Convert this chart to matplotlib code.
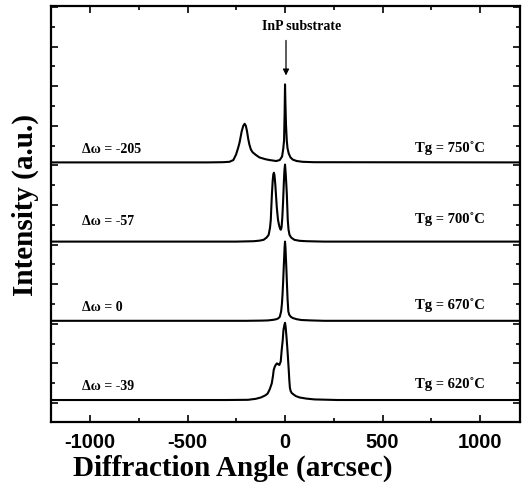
import numpy as np
import matplotlib
matplotlib.use('Agg')
import matplotlib.pyplot as plt
from matplotlib.ticker import MultipleLocator, FixedLocator

plt.rcParams['axes.unicode_minus'] = False

################## Datos ##################
# angulo (arcsec) y altura sobre la linea base (u.a.) de cada curva

x_750 = [-1200, -400, -320, -285, -265, -251, -240, -233, -222, -214, -207, -201,
         -195, -189, -183, -175, -166, -150, -131, -100, -80, -45, -27, -15, -9,
         -5, -2, 0, 2, 5, 9, 13, 19, 28, 40, 60, 90, 150, 1205]
h_750 = [0, 0, 0.01, 0.03, 0.12, 0.40, 0.75, 1.01, 1.58, 1.85, 1.95, 1.85,
         1.58, 1.2, 0.91, 0.65, 0.51, 0.38, 0.25, 0.16, 0.12, 0.07, 0.12, 0.3, 0.7,
         1.1, 2.5, 3.94, 3.0, 1.9, 1.1, 0.7, 0.45, 0.25, 0.14, 0.07, 0.03, 0.01, 0]

x_700 = [-1200, -250, -160, -130, -110, -95, -84, -77, -73, -70, -67, -63, -60,
         -57, -54, -50, -46, -42, -36, -30, -25, -22, -18, -14, -10, -6, -3, 0,
         3, 6, 9, 14, 18, 23, 32, 48, 75, 110, 200, 1205]
h_700 = [0, 0, 0.02, 0.05, 0.09, 0.2, 0.34, 0.7, 1.1, 1.8, 2.44, 3.1, 3.4,
         3.48, 3.35, 2.9, 2.3, 1.7, 1.1, 0.8, 0.65, 0.6, 0.7, 1.2, 2.0, 3.0, 3.6, 3.89,
         3.5, 3.0, 2.44, 1.1, 0.6, 0.34, 0.2, 0.09, 0.04, 0.02, 0, 0]

x_670 = [-1200, -200, -120, -87, -60, -45, -35, -27, -20, -16, -13, -10, -7, -4,
         -2, 0, 2, 4, 7, 10, 13, 17, 22, 30, 40, 60, 84, 130, 200, 1205]
h_670 = [0, 0, 0.01, 0.02, 0.05, 0.08, 0.12, 0.2, 0.47, 0.85, 1.3, 1.9, 2.6, 3.3,
         3.75, 4.0, 3.75, 3.3, 2.6, 1.82, 1.1, 0.47, 0.3, 0.2, 0.14, 0.08, 0.04, 0.02, 0, 0]

x_620 = [-1200, -300, -190, -150, -123, -100, -89, -78, -68, -62, -58, -52, -46,
         -41, -35, -29, -22, -17, -12, -8, -3, 0, 3, 7, 10, 14, 19, 22, 25, 29,
         34, 41, 55, 74, 110, 151, 270, 1205]
h_620 = [0, 0, 0.01, 0.06, 0.13, 0.24, 0.33, 0.55, 0.84, 1.2, 1.52, 1.7, 1.8,
         1.85, 1.8, 1.77, 1.95, 2.53, 3.0, 3.54, 3.8, 3.9, 3.7, 3.25, 2.86, 2.3, 1.52, 1.0, 0.62, 0.45,
         0.36, 0.3, 0.2, 0.13, 0.07, 0.03, 0.0, 0]

dw_labels = ['\u0394\u03c9 = -205', '\u0394\u03c9 = -57', '\u0394\u03c9 = 0', '\u0394\u03c9 = -39']
tg_labels = ['Tg = 750\u02daC', 'Tg = 700\u02daC', 'Tg = 670\u02daC', 'Tg = 620\u02daC']

################## Grafico ##################

serif = 'Liberation Serif'
sans = 'Liberation Sans'

fig = plt.figure(figsize=(5.26, 4.82), dpi=100)
ax = fig.add_axes([0.097, 0.1245, 0.8916, 0.8631])

curvas = [(x_750, h_750), (x_700, h_700), (x_670, h_670), (x_620, h_620)]
offsets = [12, 8, 4, 0]

for (x, h), off in zip(curvas, offsets):
    ax.plot(x, np.array(h) + off, color='black', lw=1.5)

# etiquetas de cada curva
dw_y = [12.63, 9.0, 4.68, 0.68]
tg_y = [12.73, 9.15, 4.8, 0.8]
for lab, y in zip(dw_labels, dw_y):
    ax.text(-1043, y, lab, fontsize=10, fontweight='bold', family=serif,
            ha='left', va='center')
for lab, y in zip(tg_labels, tg_y):
    ax.text(1026, y, lab, fontsize=10.5, fontweight='bold', family=serif,
            ha='right', va='center')

# flecha del sustrato
ax.text(87, 18.84, 'InP substrate', fontsize=10, fontweight='bold', family=serif,
        ha='center', va='center')
ax.annotate('', xy=(5, 16.25), xytext=(5, 18.3),
            arrowprops=dict(arrowstyle='-|>', color='black', lw=0.9, mutation_scale=9))

ax.set_xlim(-1200, 1205)
ax.set_ylim(-1.11, 19.9)

ax.xaxis.set_major_locator(MultipleLocator(500))
ax.xaxis.set_minor_locator(MultipleLocator(250))
ax.yaxis.set_major_locator(FixedLocator(np.arange(-0.15, 20, 2)))
ax.yaxis.set_minor_locator(FixedLocator(np.arange(0.85, 20, 2)))
ax.tick_params(which='both', direction='in', top=True, right=True, width=1.2)
ax.tick_params(which='major', length=5)
ax.tick_params(which='minor', length=3)
ax.tick_params(axis='y', which='both', labelleft=False)
ax.tick_params(axis='x', pad=8)

for lab in ax.get_xticklabels():
    lab.set_fontfamily(sans)
    lab.set_fontweight('bold')
    lab.set_fontsize(14.5)

for s in ax.spines.values():
    s.set_linewidth(1.6)

fig.text(233 / 526, 1 - 468 / 482, 'Diffraction Angle (arcsec)', fontsize=21,
         fontweight='bold', family=serif, ha='center', va='center')
fig.text(25 / 526, 1 - 205 / 482, 'Intensity (a.u.)', fontsize=21, fontweight='bold',
         family=serif, ha='center', va='center', rotation=90)

fig.savefig('out.png', dpi=100)
